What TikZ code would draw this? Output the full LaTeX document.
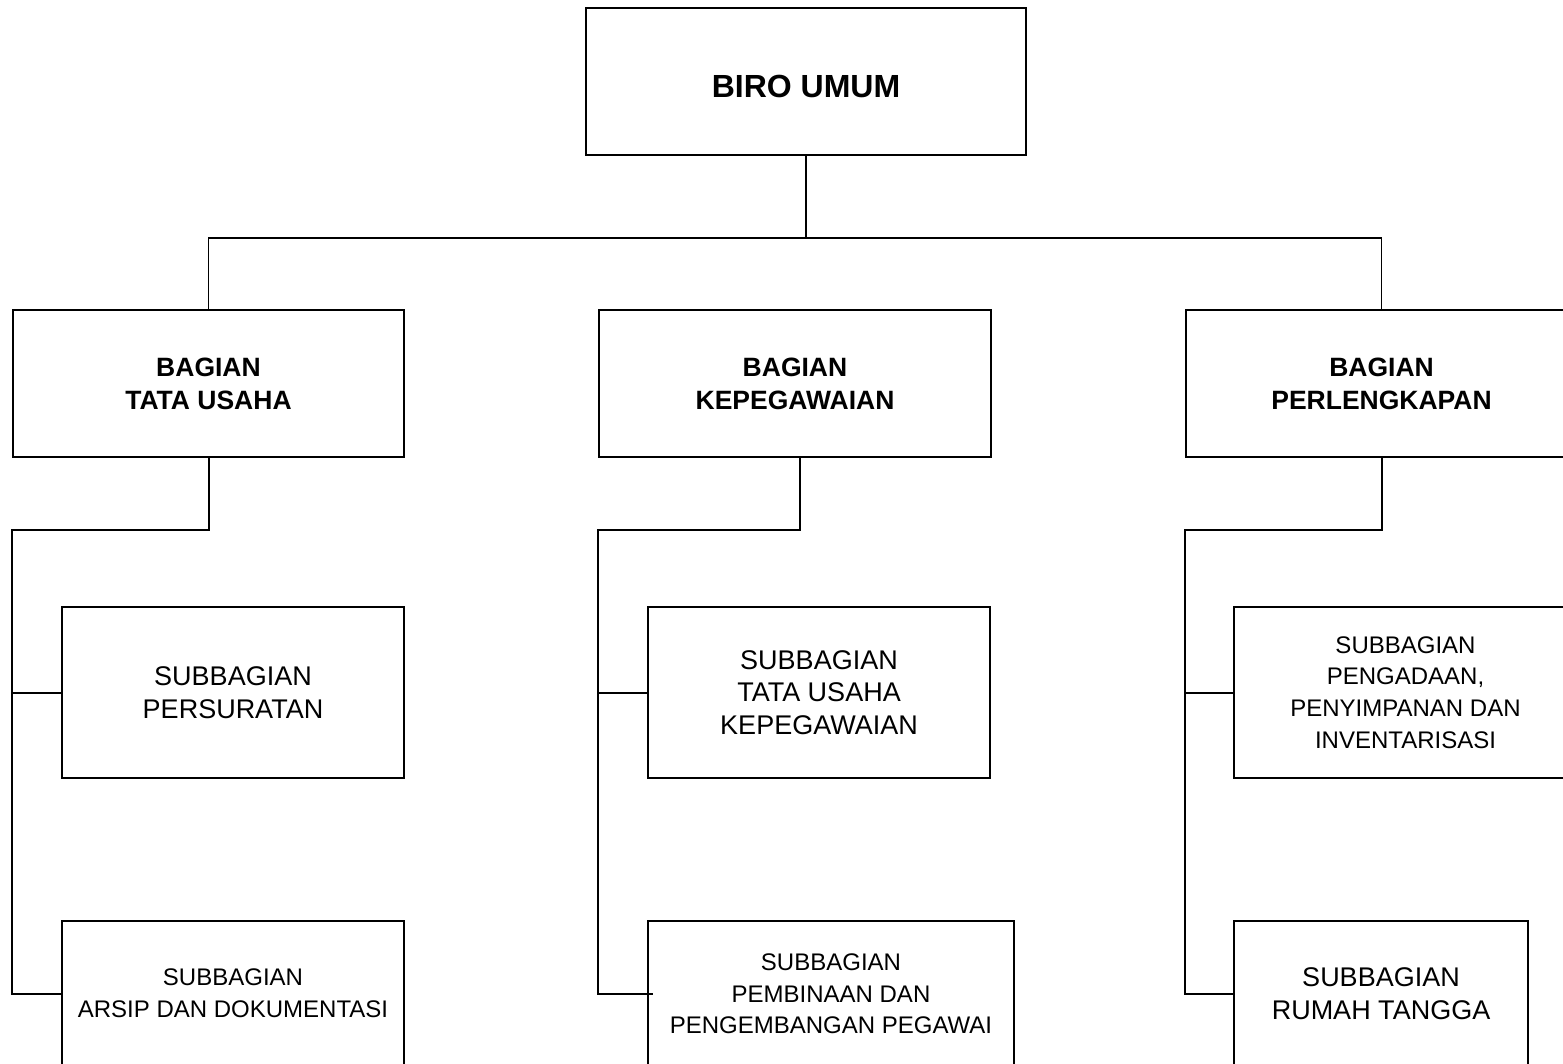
\documentclass[tikz,border=0pt]{standalone}
\usepackage{fontspec}
\setmainfont{Liberation Sans}
\begin{document}
\begin{tikzpicture}[x=1pt,y=-1pt,
  box/.style={draw=black, line width=2pt, rectangle, inner sep=0pt, align=center, fill=white},
  headbox/.style={box, font=\fontsize{32}{38}\selectfont\bfseries, text height=32pt, text depth=0pt},
  unitbox/.style={box, font=\fontsize{26.5}{33}\selectfont\bfseries},
  subbig/.style={box, font=\fontsize{27}{32.5}\selectfont},
  subsmall/.style={box, font=\fontsize{24}{31.7}\selectfont},
  thinlink/.style={draw=black, line width=1.2pt},
  link/.style={draw=black, line width=2pt}]
\useasboundingbox (0,0) rectangle (1563,1064);
\clip (0,0) rectangle (1563,1064);
\fill[white] (0,0) rectangle (1563,1064);

% head office
\node[headbox, minimum width=440, minimum height=147] (biro) at (806,81.5) {BIRO UMUM};

% divisions
\node[unitbox, minimum width=391, minimum height=147] (tu) at (208.5,383.5) {BAGIAN\\TATA USAHA};
\node[unitbox, minimum width=392, minimum height=147] (kp) at (795,383.5) {BAGIAN\\KEPEGAWAIAN};
\node[unitbox, minimum width=391, minimum height=147] (pl) at (1381.5,383.5) {BAGIAN\\PERLENGKAPAN};

% sub-divisions
\node[subbig, minimum width=342, minimum height=171] (sa1) at (233,692.5) {SUBBAGIAN\\PERSURATAN};
\node[subsmall, minimum width=342, minimum height=145] (sa2) at (233,993.5) {SUBBAGIAN\\ARSIP DAN DOKUMENTASI};
\node[subbig, minimum width=342, minimum height=171] (sb1) at (819,692.5) {SUBBAGIAN\\TATA USAHA\\KEPEGAWAIAN};
\node[subsmall, minimum width=366, minimum height=146] (sb2) at (831,994) {SUBBAGIAN\\PEMBINAAN DAN\\PENGEMBANGAN PEGAWAI};
\node[subsmall, minimum width=343, minimum height=171] (sc1) at (1405.5,692.5) {SUBBAGIAN\\PENGADAAN,\\PENYIMPANAN DAN\\INVENTARISASI};
\node[subbig, minimum width=294, minimum height=145] (sc2) at (1381,993.5) {SUBBAGIAN\\RUMAH TANGGA};

% upper tree
\coordinate (hub) at (806,238);
\draw[thinlink] (biro.south) -- (hub);
\draw[thinlink] (tu.north) |- (hub) -| (pl.north);

% Tata Usaha branch
\path (tu.south) ++(0,72) coordinate (tuk);
\draw[link] (tu.south) -- (tuk) -| (tu.west |- sa2.west) -- (sa2.west);
\draw[link] (tu.west |- sa1.west) -- (sa1.west);

% Kepegawaian branch
\path ([xshift=5pt]kp.south) ++(0,72) coordinate (kpk);
\draw[link] ([xshift=5pt]kp.south) -- (kpk) -| (kp.west |- sb2.west) -- ([xshift=6pt]sb2.west);
\draw[link] (kp.west |- sb1.west) -- (sb1.west);

% Perlengkapan branch
\path (pl.south) ++(0,72) coordinate (plk);
\draw[link] (pl.south) -- (plk) -| (pl.west |- sc2.west) -- (sc2.west);
\draw[link] (pl.west |- sc1.west) -- (sc1.west);
\end{tikzpicture}
\end{document}
